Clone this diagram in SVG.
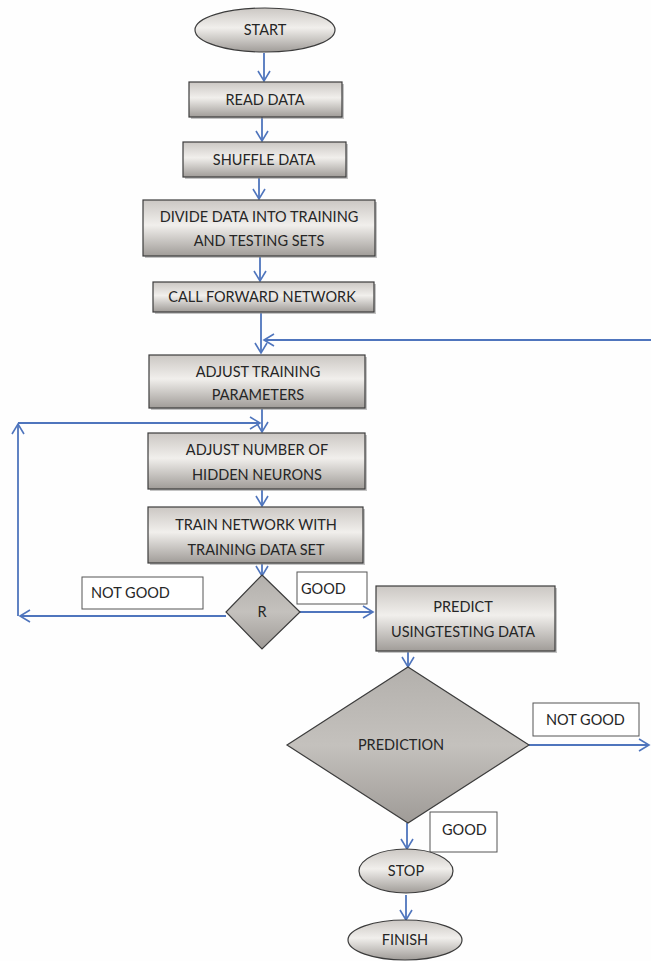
<svg xmlns="http://www.w3.org/2000/svg" width="651" height="961" viewBox="0 0 651 961">
<defs>
<linearGradient id="g" x1="0" y1="0" x2="0" y2="1">
<stop offset="0" stop-color="#cbc7c3"/>
<stop offset="0.45" stop-color="#f1efec"/>
<stop offset="1" stop-color="#a09c98"/>
</linearGradient>
<linearGradient id="gd" x1="0" y1="0" x2="0" y2="1">
<stop offset="0" stop-color="#b3b0ac"/>
<stop offset="0.5" stop-color="#c4c1bd"/>
<stop offset="1" stop-color="#9f9b97"/>
</linearGradient>
<marker id="a" markerWidth="14" markerHeight="14" refX="11" refY="7" orient="auto" markerUnits="userSpaceOnUse">
<path d="M1,1 L11,7 L1,13" fill="none" stroke="#4f75bd" stroke-width="1.6"/>
</marker>
</defs>
<style>
.n{fill:url(#g);stroke:#3c3c3c;stroke-width:1.2}
.d{fill:url(#gd);stroke:#3c3c3c;stroke-width:1.2}
.sh{fill:#8a8a8a;opacity:0.5}
.t{font-family:Lato,"Open Sans","Liberation Sans",sans-serif;font-size:14.5px;fill:#262626;text-anchor:middle}
.lb{fill:#fff;stroke:#555;stroke-width:1}
.lt{font-family:Lato,"Open Sans","Liberation Sans",sans-serif;font-size:14.5px;fill:#262626}
.c{fill:none;stroke:#4f75bd;stroke-width:1.8}
</style>
<rect width="651" height="961" fill="#fefefe"/>

<g id="connectors">
<line class="c" x1="264" y1="53" x2="264" y2="81" marker-end="url(#a)"/>
<line class="c" x1="262" y1="117" x2="262" y2="141" marker-end="url(#a)"/>
<line class="c" x1="259" y1="178" x2="259" y2="199" marker-end="url(#a)"/>
<line class="c" x1="260" y1="257" x2="260" y2="281" marker-end="url(#a)"/>
<line class="c" x1="261" y1="313" x2="261" y2="353" marker-end="url(#a)"/>
<line class="c" x1="651" y1="340" x2="264" y2="340" marker-end="url(#a)"/>
<line class="c" x1="262" y1="409" x2="262" y2="432" marker-end="url(#a)"/>
<line class="c" x1="18" y1="423" x2="260" y2="423" marker-end="url(#a)"/>
<line class="c" x1="18" y1="616" x2="18" y2="424" marker-end="url(#a)"/>
<line class="c" x1="226" y1="616" x2="20" y2="616" marker-end="url(#a)"/>
<line class="c" x1="262" y1="490" x2="262" y2="506" marker-end="url(#a)"/>
<line class="c" x1="262" y1="564" x2="262" y2="576" marker-end="url(#a)"/>
<line class="c" x1="300" y1="612" x2="373" y2="612" marker-end="url(#a)"/>
<line class="c" x1="408" y1="652" x2="408" y2="667" marker-end="url(#a)"/>
<line class="c" x1="529" y1="745" x2="649" y2="745" marker-end="url(#a)"/>
<line class="c" x1="407" y1="823" x2="407" y2="849" marker-end="url(#a)"/>
<line class="c" x1="406" y1="895" x2="406" y2="920" marker-end="url(#a)"/>
</g>

<g id="start">
<ellipse cx="265" cy="30" rx="70" ry="22" class="n"/>
<text class="t" x="265" y="35">START</text>
</g>

<g id="read">
<rect class="sh" x="191" y="84" width="153" height="35"/>
<rect class="n" x="189" y="82" width="153" height="35"/>
<text class="t" x="265" y="105">READ DATA</text>
</g>

<g id="shuffle">
<rect class="sh" x="185" y="144" width="163" height="35"/>
<rect class="n" x="183" y="142" width="163" height="35"/>
<text class="t" x="264" y="165">SHUFFLE DATA</text>
</g>

<g id="divide">
<rect class="sh" x="145" y="202" width="232" height="56"/>
<rect class="n" x="143" y="200" width="232" height="56"/>
<text class="t" x="259" y="222">DIVIDE DATA INTO TRAINING</text>
<text class="t" x="259" y="246">AND TESTING SETS</text>
</g>

<g id="forward">
<rect class="sh" x="155" y="284" width="221" height="30"/>
<rect class="n" x="153" y="282" width="221" height="30"/>
<text class="t" x="262" y="302">CALL FORWARD NETWORK</text>
</g>

<g id="adjust-params">
<rect class="sh" x="151" y="357" width="216" height="53"/>
<rect class="n" x="149" y="355" width="216" height="53"/>
<text class="t" x="258" y="377">ADJUST TRAINING</text>
<text class="t" x="258" y="400">PARAMETERS</text>
</g>

<g id="adjust-hidden">
<rect class="sh" x="150" y="435" width="217" height="56"/>
<rect class="n" x="148" y="433" width="217" height="56"/>
<text class="t" x="257" y="455">ADJUST NUMBER OF</text>
<text class="t" x="257" y="480">HIDDEN NEURONS</text>
</g>

<g id="train">
<rect class="sh" x="150" y="509" width="215" height="56"/>
<rect class="n" x="148" y="507" width="215" height="56"/>
<text class="t" x="256" y="530">TRAIN NETWORK WITH</text>
<text class="t" x="256" y="555">TRAINING DATA SET</text>
</g>

<g id="r">
<polygon class="d" points="262,575 300,612 262,649 226,612"/>
<text class="t" x="262" y="617">R</text>
</g>

<g id="label-notgood1">
<rect class="lb" x="82" y="577" width="121" height="32"/>
<text class="lt" x="91" y="598">NOT GOOD</text>
</g>

<g id="label-good1">
<rect class="lb" x="297" y="572" width="70" height="32"/>
<text class="lt" x="301" y="594">GOOD</text>
</g>

<g id="predict">
<rect class="sh" x="378" y="588" width="179" height="65"/>
<rect class="n" x="376" y="586" width="179" height="65"/>
<text class="t" x="463" y="612">PREDICT</text>
<text class="t" x="463" y="637">USINGTESTING DATA</text>
</g>

<g id="prediction">
<polygon class="d" points="408,667 529,745 408,823 287,745"/>
<text class="t" x="401" y="750">PREDICTION</text>
</g>

<g id="label-notgood2">
<rect class="lb" x="533" y="703" width="106" height="33"/>
<text class="lt" x="546" y="725">NOT GOOD</text>
</g>

<g id="label-good2">
<rect class="lb" x="430" y="812" width="67" height="40"/>
<text class="lt" x="442" y="835">GOOD</text>
</g>

<g id="stop">
<ellipse cx="406" cy="871" rx="47" ry="22" class="n"/>
<text class="t" x="406" y="876">STOP</text>
</g>

<g id="finish">
<ellipse cx="405" cy="940" rx="57" ry="20" class="n"/>
<text class="t" x="405" y="945">FINISH</text>
</g>
</svg>
